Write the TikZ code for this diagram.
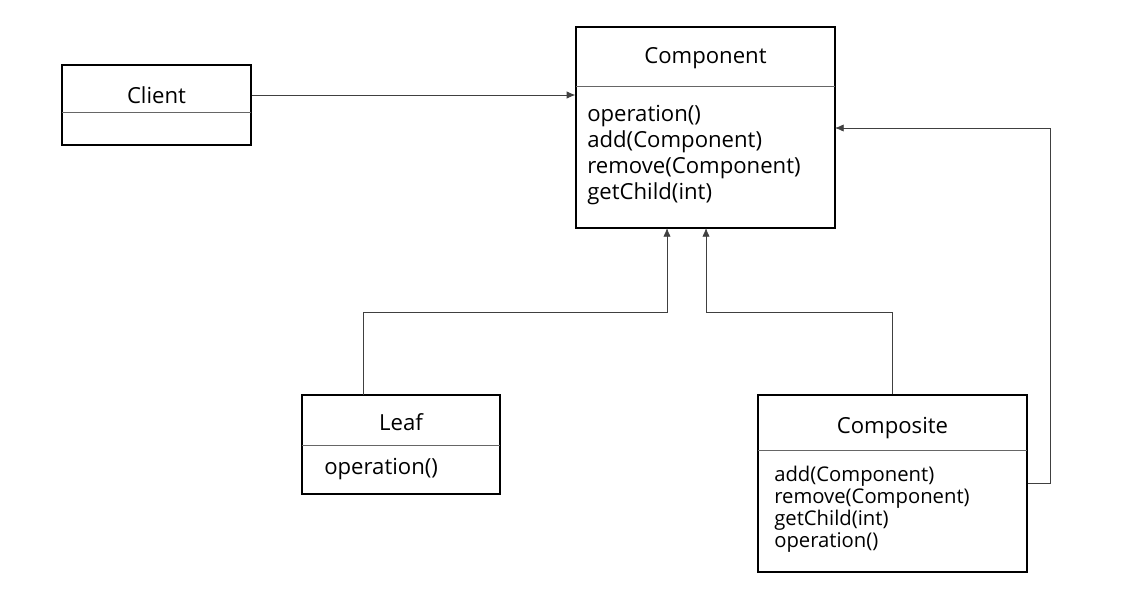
\documentclass[tikz,border=0pt]{standalone}
\usepackage{fontspec}
\setmainfont{Open Sans}
\usetikzlibrary{calc, arrows.meta}

\begin{document}
\begin{tikzpicture}[
	x=0.75pt, y=-0.75pt,
	lines/.style={
		line width=0.6pt,
		draw=black!75,
		>={Latex[length=6.5pt,width=5.5pt]}
	},
	cls/.style={
		rectangle,
		draw=black,
		line width=0.9pt,
		inner sep=0pt
	},
	title/.style={
		inner sep=0pt,
		font=\fontsize{16.6}{19.3}\selectfont
	},
	body/.style={
		inner sep=0pt,
		align=left,
		anchor=west,
		font=\fontsize{16.6}{19.3}\selectfont
	}
]
	\useasboundingbox (0,0) rectangle (1138,611);

	%% classes
	\node[cls, minimum width=141.75pt, minimum height=60pt] (client) at (156.5,105) {};
	\node[title] (client_t) at (156.5,95) {Client};
	\draw[lines, draw=black!60] (62,112) -- (251,112);

	\node[cls, minimum width=194.25pt, minimum height=150.75pt] (component) at (705.5,127.5) {};
	\node[title] (component_t) at (705.5,58) {Component};
	\draw[lines, draw=black!60] (576,86) -- (835,86);
	\node[body] (component_b) at (587,155) {
		operation()\\
		add(Component)\\
		remove(Component)\\
		getChild(int)
	};

	\node[cls, minimum width=148.5pt, minimum height=74.25pt] (leaf) at (401,444.5) {};
	\node[title] (leaf_t) at (401,422) {Leaf};
	\draw[lines, draw=black!60] (302,445) -- (500,445);
	\node[body] (leaf_b) at (324,469) {operation()};

	\node[cls, minimum width=201.75pt, minimum height=132.75pt] (composite) at (892.5,483.5) {};
	\node[title] (composite_t) at (892.5,428) {Composite};
	\draw[lines, draw=black!60] (758,450) -- (1027,450);
	\node[body, font=\fontsize{15.2}{16.5}\selectfont] (composite_b) at (774,509) {
		add(Component)\\
		remove(Component)\\
		getChild(int)\\
		operation()
	};

	%% connectors
	\coordinate (leaf_up) at (363,395);
	\coordinate (comp_in_l) at (667,228);
	\coordinate (comp_in_r) at (706,228);
	\coordinate (comp_in_e) at (835,128);

	\draw[lines,->] (client_t -| client.east) -- (client_t -| component.west);
	\draw[lines,->] (leaf_up) -- (363,312) -| (comp_in_l);
	\draw[lines,->] (composite.north) -- (892.5,312) -| (comp_in_r);
	\draw[lines,->] (composite.east) -- ++(23,0) |- (comp_in_e);
\end{tikzpicture}
\end{document}
